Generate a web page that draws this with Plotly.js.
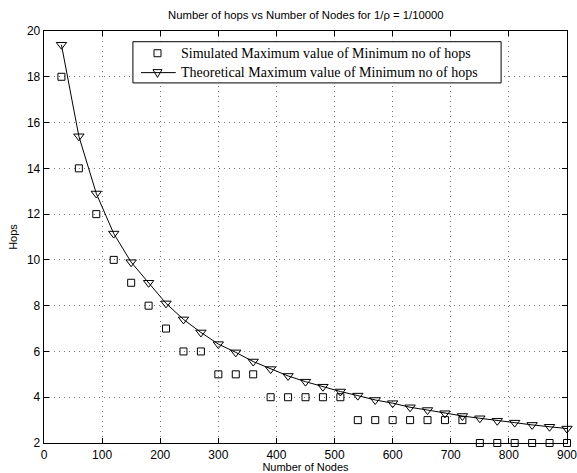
<!DOCTYPE html>
<html><head><meta charset="utf-8">
<script src="https://cdn.plot.ly/plotly-3.0.1.min.js"></script>
<style>body{margin:0;padding:0;background:#fff}#chart{width:577px;height:473px}</style>
</head><body><div id="chart"></div>
<script>
const nodes = [30,60,90,120,150,180,210,240,270,300,330,360,390,420,450,480,510,540,570,600,630,660,690,720,750,780,810,840,870,900];
const simulatedHops = [18,14,12,10,9,8,7,6,6,5,5,5,4,4,4,4,4,3,3,3,3,3,3,3,2,2,2,2,2,2];
const theoreticalHops = [19.4,15.4,12.9,11.15,9.9,9.0,8.1,7.4,6.83,6.32,5.96,5.56,5.23,4.93,4.68,4.46,4.25,4.07,3.88,3.74,3.56,3.44,3.30,3.18,3.08,2.97,2.89,2.79,2.71,2.63];
const xTicks = [0,100,200,300,400,500,600,700,800,900];
const yTicks = [2,4,6,8,10,12,14,16,18,20];
const seriesNames = ['Simulated Maximum value of Minimum no of hops', 'Theoretical Maximum value of Minimum no of hops'];

const traces = [
  {x: nodes, y: simulatedHops, mode: 'markers', name: seriesNames[0],
   marker: {symbol: 'square-open', size: 7, color: '#000', line: {width: 1}}, cliponaxis: false},
  {x: nodes, y: theoreticalHops, mode: 'lines+markers', name: seriesNames[1],
   line: {color: '#000', width: 1}, marker: {symbol: 'triangle-down-open', size: 9, color: '#000', line: {width: 1}}, cliponaxis: false}
];

const axisCommon = {
  showline: true, linecolor: '#000', linewidth: 1.3, mirror: 'ticks',
  ticks: 'inside', ticklen: 5, tickcolor: '#000', tickwidth: 1,
  showgrid: true, gridcolor: '#777', griddash: '1px,4px', gridwidth: 1,
  zeroline: false, ticklabeloverflow: 'allow',
  tickfont: {family: 'Liberation Sans, Arial, sans-serif', size: 12, color: '#000'}
};

// Compact legend box (drawn as layout decoration)
const legX0 = 0.170, legX1 = 0.874, legYTop = 0.974, legYBot = 0.874;
const rowY = [0.946, 0.899];
const symX = 0.217, lineX0 = 0.1855, lineX1 = 0.252, textX = 0.259;
const legFont = {family: 'Liberation Serif, Times New Roman, serif', size: 14, color: '#000'};

const shapes = [
  {type: 'rect', xref: 'paper', yref: 'paper', x0: legX0, x1: legX1, y0: legYBot, y1: legYTop,
   fillcolor: '#fff', line: {color: '#000', width: 1}, layer: 'above'},
  {type: 'rect', xref: 'paper', yref: 'paper', xsizemode: 'pixel', ysizemode: 'pixel', xanchor: symX, yanchor: rowY[0],
   x0: -3.5, x1: 3.5, y0: -3.5, y1: 3.5, line: {color: '#000', width: 1}, layer: 'above'},
  {type: 'line', xref: 'paper', yref: 'paper', x0: lineX0, x1: lineX1, y0: rowY[1], y1: rowY[1],
   line: {color: '#000', width: 1}, layer: 'above'},
  {type: 'path', xref: 'paper', yref: 'paper', xsizemode: 'pixel', ysizemode: 'pixel', xanchor: symX, yanchor: rowY[1],
   path: 'M-4.5,3 L4.5,3 L0,-4.8 Z', fillcolor: 'rgba(0,0,0,0)', line: {color: '#000', width: 1}, layer: 'above'}
];
const annotations = seriesNames.map((n, i) => ({xref: 'paper', yref: 'paper', x: textX, y: rowY[i], xanchor: 'left', yanchor: 'middle',
  text: n, showarrow: false, font: legFont}));

const layout = {
  width: 577, height: 473,
  margin: {l: 44, r: 10, t: 31, b: 30},
  paper_bgcolor: '#fff', plot_bgcolor: '#fff',
  title: {text: 'Number of hops vs Number of Nodes for 1/ρ = 1/10000', font: {family: 'Liberation Sans, Arial, sans-serif', size: 11.3, color: '#000'},
          x: 0.530, xanchor: 'center', y: 0.968, yanchor: 'middle'},
  xaxis: Object.assign({}, axisCommon, {range: [0, 900], tickvals: xTicks, ticktext: xTicks.map(String),
    title: {text: 'Number of Nodes', font: {family: 'Liberation Sans, Arial, sans-serif', size: 11, color: '#000'}, standoff: 0}}),
  yaxis: Object.assign({}, axisCommon, {range: [2, 20], tickvals: yTicks, ticktext: yTicks.map(String),
    title: {text: 'Hops', font: {family: 'Liberation Sans, Arial, sans-serif', size: 11, color: '#000'}, standoff: 7}}),
  showlegend: false,
  shapes: shapes,
  annotations: annotations
};

Plotly.newPlot('chart', traces, layout, {displayModeBar: false, staticPlot: true});
</script></body></html>
